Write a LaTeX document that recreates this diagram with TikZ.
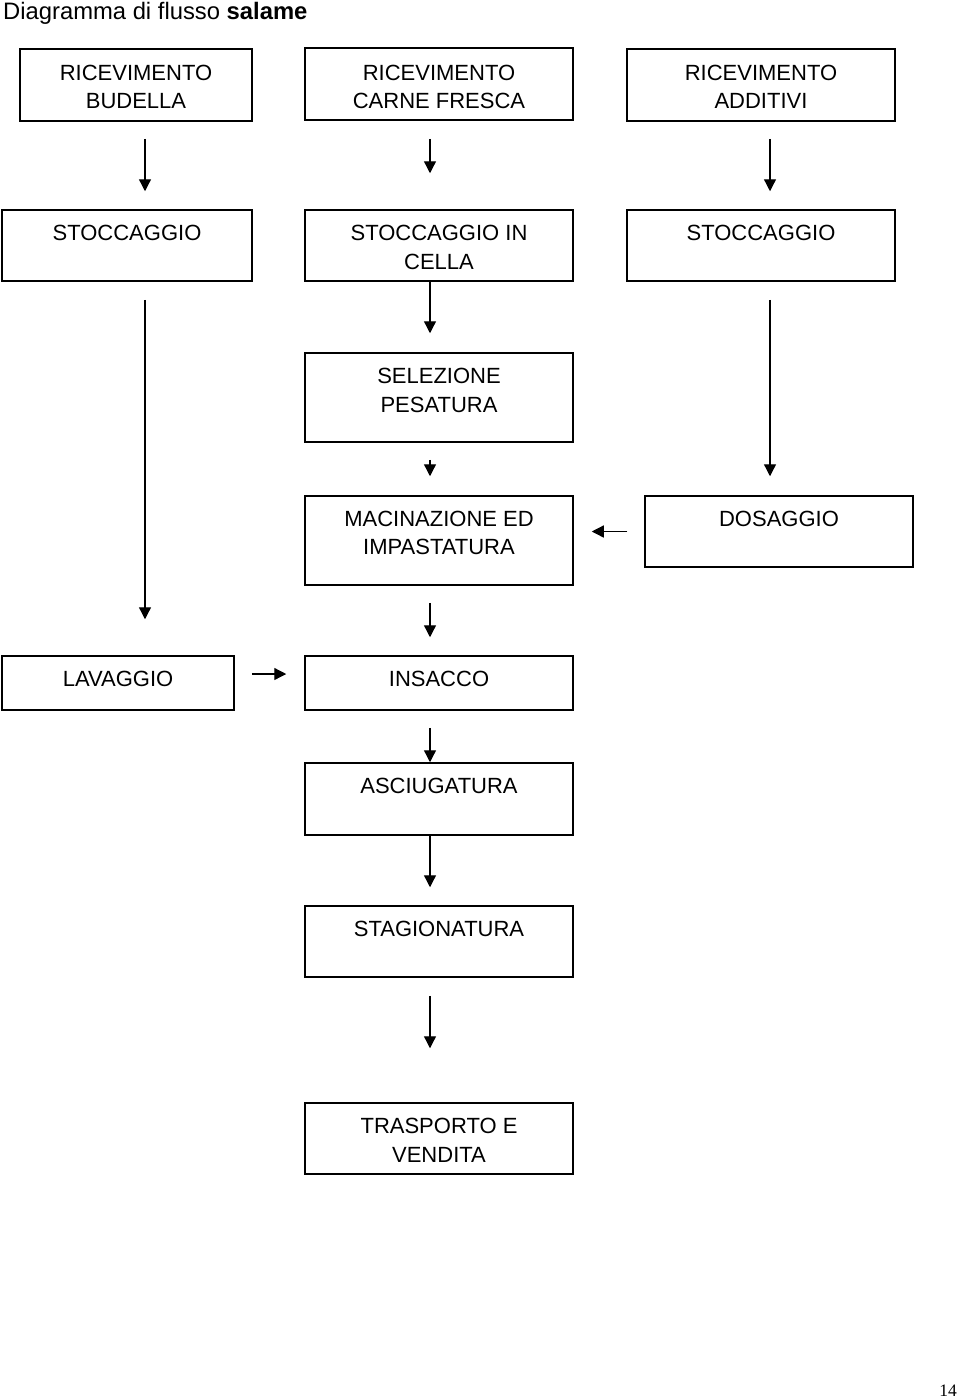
\documentclass[tikz,border=0pt]{standalone}
\usepackage{fontspec}
\setmainfont{Liberation Sans}
\newfontfamily\pagenumfont{Liberation Serif}
\usetikzlibrary{arrows.meta,calc}
\begin{document}
\begin{tikzpicture}[x=1pt,y=-1pt,
  box/.style={draw, line width=1.5pt, rectangle, inner sep=0pt, minimum width=268pt},
  txt/.style={anchor=north, inner sep=0pt, align=center, font=\fontsize{22}{28.5}\selectfont},
  arr/.style={line width=1.3pt, -{Triangle[length=12pt,width=12pt]}}]
\fill[white] (0,0) rectangle (960,1398);
\useasboundingbox (0,0) rectangle (960,1398);

\node[anchor=base west, inner sep=0pt, font=\fontsize{23.8}{27}\selectfont] (title) at (3,19) {Diagramma di flusso \textbf{salame}};

% boxes
\node[box, minimum width=232pt, minimum height=72pt] (b1) at (136,85) {};
\node[box, minimum height=72pt] (b2) at (439,84) {};
\node[box, minimum height=72pt] (b3) at (761,85) {};
\node[box, minimum width=250pt, minimum height=71pt] (s1) at (127,245.5) {};
\node[box, minimum height=71pt] (s2) at (439,245.5) {};
\node[box, minimum height=71pt] (s3) at (761,245.5) {};
\node[box, minimum height=89pt] (sel) at (439,397.5) {};
\node[box, minimum height=89pt] (mac) at (439,540.5) {};
\node[box, minimum height=71pt] (dos) at (779,531.5) {};
\node[box, minimum width=232pt, minimum height=54pt] (lav) at (118,683) {};
\node[box, minimum height=54pt] (ins) at (439,683) {};
\node[box, minimum height=72pt] (asc) at (439,799) {};
\node[box, minimum height=71pt] (sta) at (439,941.5) {};
\node[box, minimum height=71pt] (tra) at (439,1138.5) {};

% texts
\node[txt] (tb1) at ([yshift=-16.5pt]b1.north) {RICEVIMENTO\\BUDELLA};
\node[txt] (tb2) at ([yshift=-17.5pt]b2.north) {RICEVIMENTO\\CARNE FRESCA};
\node[txt] (tb3) at ([yshift=-16.5pt]b3.north) {RICEVIMENTO\\ADDITIVI};
\node[txt] (ts1) at ([yshift=-16pt]s1.north) {STOCCAGGIO};
\node[txt] (ts2) at ([yshift=-16pt]s2.north) {STOCCAGGIO IN\\CELLA};
\node[txt] (ts3) at ([yshift=-16pt]s3.north) {STOCCAGGIO};
\node[txt] (tsel) at ([yshift=-16pt]sel.north) {SELEZIONE\\PESATURA};
\node[txt] (tmac) at ([yshift=-15.5pt]mac.north) {MACINAZIONE ED\\IMPASTATURA};
\node[txt] (tdos) at ([yshift=-15.5pt]dos.north) {DOSAGGIO};
\node[txt] (tlav) at ([yshift=-16pt]lav.north) {LAVAGGIO};
\node[txt] (tins) at ([yshift=-16pt]ins.north) {INSACCO};
\node[txt] (tasc) at ([yshift=-16pt]asc.north) {ASCIUGATURA};
\node[txt] (tsta) at ([yshift=-16pt]sta.north) {STAGIONATURA};
\node[txt] (ttra) at ([yshift=-16pt]tra.north) {TRASPORTO E\\VENDITA};

% column coordinates
\coordinate (xL) at (145,0);
\coordinate (xM) at (430,0);
\coordinate (xR) at (770,0);

% arrows
\draw[arr, shorten <=17pt, shorten >=18pt] (b1.south -| xL) -- (s1.north -| xL);
\draw[arr, shorten <=18pt, shorten >=36pt] (b2.south -| xM) -- (s2.north -| xM);
\draw[arr, shorten <=17pt, shorten >=18pt] (b3.south -| xR) -- (s3.north -| xR);
\draw[arr, shorten <=18pt, shorten >=36pt] (s1.south -| xL) -- (lav.north -| xL);
\draw[arr, shorten >=19pt] (s2.south -| xM) -- (sel.north -| xM);
\draw[arr, shorten <=18pt, shorten >=19pt] (s3.south -| xR) -- (dos.north -| xR);
\draw[arr, shorten <=17pt, shorten >=19pt] (sel.south -| xM) -- (mac.north -| xM);
\draw[arr, shorten <=17pt, shorten >=18pt] (dos.west) -- (mac.east |- dos.west);
\draw[arr, shorten <=17pt, shorten >=18pt] (mac.south -| xM) -- (ins.north -| xM);
\draw[arr, shorten <=17pt, shorten >=18pt] ([yshift=9pt]lav.east) -- ([yshift=9pt]ins.west);
\draw[arr, shorten <=17pt] (ins.south -| xM) -- (asc.north -| xM);
\draw[arr, shorten >=18pt] (asc.south -| xM) -- (sta.north -| xM);
\draw[arr, shorten <=18pt, shorten >=54pt] (sta.south -| xM) -- (tra.north -| xM);

\node[anchor=base east, inner sep=0pt, font=\pagenumfont\fontsize{17.5}{20}\selectfont] (pnum) at (957,1396) {14};
\end{tikzpicture}
\end{document}
